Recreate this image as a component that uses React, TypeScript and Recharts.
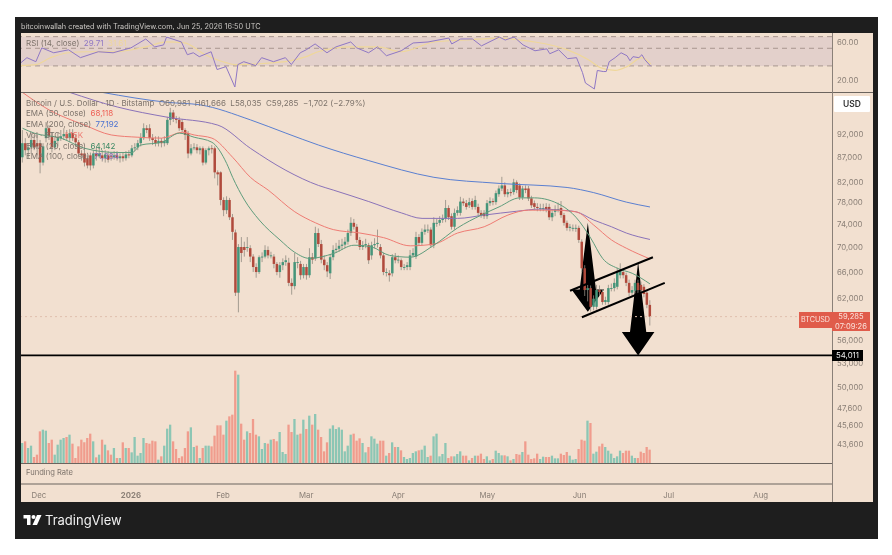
import React from 'react';
import { ComposedChart, Bar, Line, Cell, XAxis, YAxis, ReferenceLine, ReferenceArea } from 'recharts';

// daily candles, BTCUSD Bitstamp
const opens = [87000,90000,88500,89100,90700,90000,90000,85900,91100,93300,91500,89100,90500,91100,91500,92000,91100,92200,91100,90200,87800,87800,86800,87400,85300,87800,87200,87400,86800,87400,87200,87000,87400,86800,87200,86800,87600,87400,88900,89100,90000,91100,93300,93300,91100,90700,90000,90500,90000,90000,95200,96900,95400,95200,94700,92900,92200,87800,88900,89100,88500,88900,85900,88500,88900,88900,83900,83900,78500,76600,78500,75300,72600,62800,70100,70100,70100,69900,68500,66800,66000,68400,68500,69600,68700,68500,67300,66000,67100,67600,67500,64300,63800,67600,67300,65500,66800,65500,68400,68200,72500,70600,68000,67100,65800,68400,69600,69800,70300,70500,71000,72500,74300,73600,71300,70100,70400,70400,68700,70400,70600,70100,68700,66000,65800,65800,68400,67900,67900,66800,66800,66800,68700,68500,71800,70800,72700,73100,73100,70400,74300,74300,74800,75000,77000,75500,73600,76100,76100,78200,77900,77500,78300,77200,77200,76100,76100,75500,77900,78300,78100,79600,80700,81300,79600,80000,80000,81900,81300,79000,80700,80700,78800,77900,77200,77000,77000,77200,77200,75300,76300,76800,77000,75700,74300,73400,73400,73400,73400,71000,66600,63200,63500,60700,60700,63200,62900,61400,61400,63500,63500,63700,65500,66000,65500,64300,62800,63100,64300,64000,63700,62800,60981];
const closes = [90000,88500,89100,90700,89100,89300,85900,89300,93300,91500,89100,90500,91100,91500,92000,91100,92200,91100,90200,87800,87400,85900,85300,85300,87800,87200,87800,86800,87600,86500,87000,87400,86800,87200,86800,87600,87400,88900,89100,90000,91100,93300,92900,91100,90700,90000,90500,90000,90500,95200,96900,95400,95200,93300,92900,91800,87800,88900,89100,88500,88900,85900,88500,88900,88800,83900,83500,78500,76600,78500,75300,72700,62800,70100,69100,69600,70100,68500,66800,66000,68400,68500,69600,68700,68700,67300,66000,67100,67600,67900,64300,63800,67600,67600,65500,66800,65500,68400,68000,72500,70600,68000,67100,66100,68400,69600,69800,70300,70500,71000,72500,74300,73600,71300,70100,70400,70600,67900,70400,70600,70800,68700,66000,66000,65500,68400,67900,68000,66800,66800,67100,68700,69100,71800,70800,72700,73100,73100,70400,74300,74300,74800,75000,77000,75300,73600,76100,76600,78200,77900,77200,78100,77200,78500,76100,75700,75500,77900,78300,78100,79800,80700,81300,79600,80000,79800,81900,80400,79000,80700,80400,78800,77500,77200,77000,77000,77000,76800,75300,76100,76800,76800,75700,74300,73400,73600,73400,73400,71300,66600,63200,63500,60700,61900,63200,62900,61400,61700,63500,63500,64300,66000,66200,65500,64300,62800,63200,64300,63200,63200,62600,61000,59285];
const highs = [92900,91100,90000,92200,91800,91800,90700,90000,94700,94000,92400,91500,92200,92900,93300,92900,93100,93100,92000,90700,88500,88900,87400,88000,88500,89000,89000,88500,88500,88300,88000,88300,88300,87800,88000,88300,88500,89600,90000,90700,92200,94400,94000,94200,92000,91500,91500,91100,91500,95900,98000,97500,96100,95900,95400,93300,92700,89800,90000,89800,89300,89300,88900,89300,89600,89300,84300,84100,79000,79200,78900,75900,73100,70600,71800,71000,71800,70400,68900,67400,68700,69200,70400,70200,69300,68900,67600,67600,68200,68700,68300,65000,69100,68400,67800,67300,67300,69900,69100,73600,73300,71300,68700,67600,68900,70400,70800,71300,71500,71800,73100,75300,75000,74100,71800,71100,71500,70800,71000,71600,73100,70600,69100,66600,66300,68900,69100,68700,68200,67300,67600,69600,69900,72700,72300,73300,74000,74000,73500,75300,75000,75500,75800,78500,77500,76000,76900,77300,79100,78800,78500,78900,78800,79300,77800,76600,76600,78500,79000,78800,80300,81300,83000,81900,80600,80700,82600,82300,81700,81200,81300,81200,79300,78400,77900,77800,77800,77900,77800,76700,77500,78000,78300,76100,74700,74100,74000,74000,73800,71400,67100,64000,63900,62400,64000,63900,63300,62200,64000,64200,65000,66700,67400,66500,65900,64800,63800,64800,64800,64500,64100,63200,61666];
const lows = [85900,87400,86800,87800,88500,87400,83700,85300,90200,90700,88000,88500,89300,90500,90700,90500,90200,90500,89300,87000,86300,85100,84700,84300,84700,86300,86800,86100,85900,85900,86300,86500,86300,85900,86100,86300,86800,87000,88300,88500,89300,90700,92200,90500,89600,89300,89300,89100,89300,89600,94000,94700,94400,92700,92400,90700,86800,87400,88500,87800,87600,85300,85500,87400,87800,82700,81300,77500,75500,75900,74800,71300,62300,59900,67600,68500,69300,67600,66000,65100,65700,67600,68200,68200,68200,66600,65500,65100,66300,67000,63800,62500,63300,66600,64800,65000,64800,65100,67300,67800,70100,67400,66300,65200,64900,67900,69100,69300,69600,69900,70500,72000,73100,70800,69600,69600,69900,67300,68000,69900,70000,68200,65500,65300,64500,65300,67400,67400,66300,66300,66300,66300,68400,68100,70300,70300,72200,72500,70000,69900,73600,73800,74300,74400,74800,73100,73100,75600,75600,77400,76700,77000,76700,76700,75500,75200,75000,75000,77400,77500,77600,79100,80200,79100,79000,79200,79500,79800,78500,78500,79800,78300,77000,76600,76400,76400,76400,76200,74800,74600,75500,76200,75200,73800,72900,72800,72800,72700,70800,66000,62300,61500,60000,60200,60300,62300,61000,61000,61000,63000,63000,63300,65000,65000,63800,62300,62300,62700,62700,62600,62100,60500,58035];

// volume bars in relative units, the reference gives no scale for them
const volumes = [60,65,45,52,18,25,95,100,97,60,70,25,55,70,75,78,85,58,15,50,70,62,75,88,65,17,25,70,55,38,25,45,15,15,62,45,45,32,78,22,30,75,60,58,67,65,10,20,52,103,115,65,42,15,20,45,95,107,48,52,15,45,52,52,50,82,113,113,85,127,140,145,277,265,118,70,95,90,132,85,80,42,60,58,70,72,65,93,33,27,115,93,132,85,88,130,102,142,115,147,100,78,35,62,103,113,102,107,100,35,52,85,88,67,74,60,32,48,80,73,58,67,67,22,30,62,48,48,38,18,12,15,30,35,38,40,52,18,22,80,88,20,27,60,15,20,20,27,35,22,22,8,15,22,22,28,12,20,8,12,37,30,23,23,20,8,12,27,25,33,65,25,12,14,28,12,19,18,18,22,14,14,28,24,33,22,10,12,42,70,67,127,120,28,34,50,58,48,37,28,15,20,37,30,37,37,22,15,15,34,30,48,40];

// moving averages, sampled every so often along the curves
const ema20Days = [0,4,13,21,32,37,40,47,53,58,64,69,71,75,80,87,92,97,105,112,118,124,131,139,147,155,161,168,173,182,187,192,196,201,206,212];
const ema20 = [93300,92200,91100,88900,88000,88000,89600,90200,92200,91300,90200,85700,82900,78500,74800,71300,69200,68200,69000,70400,70100,68700,68400,70400,73400,75700,77200,78900,78900,77500,75300,71600,68200,66600,65800,64142];
const ema50Days = [0,9,21,30,39,47,54,58,64,71,77,83,92,99,105,114,122,131,139,147,156,164,171,179,187,193,199,204,212];
const ema50 = [101700,97500,94000,91800,91300,91100,92400,91800,91100,87000,82900,80400,76300,74300,73100,72500,71700,70300,70600,72500,73600,75700,76600,76600,76300,73900,71300,69900,68118];
const ema100Days = [16,32,49,66,77,89,100,105,117,128,135,147,156,167,175,182,187,193,199,204,212];
const ema100 = [101700,98200,95800,94000,88900,84300,81300,80400,78200,76100,75100,75100,75700,76400,76800,76600,76300,74800,73600,72500,71384];
const ema200Days = [27,49,60,77,89,100,117,139,161,184,193,204,212];
const ema200 = [101700,99300,98700,95200,92200,89600,86300,82900,81700,80900,79900,78100,77192];

const rsiDays = [0,2,5,7,11,16,20,26,31,37,42,45,48,49,54,56,58,60,64,66,69,72,73,75,79,81,85,89,91,94,96,99,103,106,111,113,117,120,123,128,132,137,144,145,148,152,155,161,163,166,169,173,177,178,181,184,187,189,190,193,194,196,197,198,200,202,204,205,206,208,209,210,212];
const rsi = [33,38.1,33.9,50.6,43.9,47.8,38.1,45.2,43.9,50.6,65.4,52,55.1,69.2,60,41.5,43.9,39.2,45.2,27,29.4,16.3,31.2,33.9,30.3,38.1,33.9,38.1,31.2,43.9,47.8,56.7,43.9,52,60,50.6,43.9,52,40.3,46.5,58.3,60,67.2,56.7,65.4,65.4,53.6,69.2,63.5,69.2,55.1,46.5,49.2,42.7,47.8,37,38.1,24.8,18.3,15.4,26.3,25.5,25.5,33.9,38.1,43.9,40.3,34.9,39.2,38.1,41.5,35.9,29.71];
const rsiMaDays = [0,5,10,16,22,32,42,49,55,62,69,72,89,96,100,111,120,128,139,150,161,168,173,184,191,195,200,204,209,212];
const rsiMa = [30.3,31.2,38.1,43.9,45.2,45.2,52,60,58.3,41.5,33,31.2,33.9,39.2,45.2,52,52,45.2,60,63.5,67.2,63.5,60,47.8,35.9,28.6,26.3,29.4,38.1,31.61];

const monthDays = [6,37,68,96,127,157,188,218,249];
const monthLabels = ['Dec','2026','Feb','Mar','Apr','May','Jun','Jul','Aug'];
const priceTicks = [92000,87000,82000,78000,74000,70000,66000,62000,56000,53000,50000,47600,45600,43600];
const rsiTicks = [60,20];

const TOTAL_DAYS = 274;
const PANE_BG = '#f2e0d0';
const UP = '#45957a';
const DOWN = '#b04a3c';
const FONT = 'Inter, "Liberation Sans", sans-serif';
const AXIS_TEXT = '#8a7f76';

const pick = (days: number[], vals: number[], i: number) => {
  const k = days.indexOf(i);
  return k < 0 ? null : vals[k];
};

const rows = Array.from({ length: TOTAL_DAYS }, (_, i) => ({
  idx: i,
  open: opens[i],
  close: closes[i],
  high: highs[i],
  low: lows[i],
  range: i < opens.length ? [lows[i], highs[i]] : null,
  volume: volumes[i],
  ema20: pick(ema20Days, ema20, i),
  ema50: pick(ema50Days, ema50, i),
  ema100: pick(ema100Days, ema100, i),
  ema200: pick(ema200Days, ema200, i),
  rsi: pick(rsiDays, rsi, i),
  rsiMa: pick(rsiMaDays, rsiMa, i),
}));

// wick spans the whole bar, the body is placed inside it on the log scale
const Candle = (props: any) => {
  const { x, y, width, height, payload } = props;
  if (!payload || payload.open === undefined) return null;
  const span = Math.log(payload.high) - Math.log(payload.low);
  const toY = (p: number) => y + (height * (Math.log(payload.high) - Math.log(p))) / span;
  const top = toY(Math.max(payload.open, payload.close));
  const bottom = toY(Math.min(payload.open, payload.close));
  const up = payload.close >= payload.open;
  const cx = x + width / 2;
  return (
    <g>
      <line x1={cx} x2={cx} y1={y} y2={y + height} stroke="#8f8a80" strokeWidth={0.8} />
      <rect x={cx - 1.25} width={2.5} y={top} height={Math.max(bottom - top, 0.9)} fill={up ? UP : DOWN} />
    </g>
  );
};

const Arrow = (props: any) => {
  const { x, y, width, height } = props;
  const cx = x + width / 2;
  const neck = y + height * 0.75;
  const pts = [
    [cx, y],
    [cx + width * 0.25, neck],
    [x + width, neck],
    [cx, y + height],
    [x, neck],
    [cx - width * 0.25, neck],
  ];
  return <polygon points={pts.map((p) => p.join(',')).join(' ')} fill="#000" />;
};

const MonthTick = (props: any) => {
  const { x, y, payload } = props;
  const label = monthLabels[monthDays.indexOf(payload.value)];
  return (
    <text x={x} y={y + 12} textAnchor="middle" fontSize={7.8} fontFamily={FONT} fill={AXIS_TEXT} fontWeight={label === '2026' ? 700 : 400}>
      {label}
    </text>
  );
};

const box = (left: number, top: number, width: number, height: number, extra: React.CSSProperties = {}): React.CSSProperties => ({
  position: 'absolute',
  left,
  top,
  width,
  height,
  ...extra,
});

const Label = ({ x, y, color = '#7d736b', children, size = 8 }: any) => (
  <div style={{ position: 'absolute', left: x, top: y, color, fontSize: size, lineHeight: '10px', whiteSpace: 'pre', fontFamily: FONT }}>
    {children}
  </div>
);

const App: React.FC = () => {
  const axisTick = { fontSize: 7.8, fontFamily: FONT, fill: AXIS_TEXT };
  return (
    <div style={{ position: 'absolute', left: 0, top: 0, width: 892, height: 555, background: '#fff', overflow: 'hidden', filter: 'blur(0.6px)' }}>
      <div style={box(15, 17, 863, 522, { background: '#1e1e1e' })} />
      <div style={box(21, 33, 852, 469, { background: PANE_BG })} />
      <Label x={21} y={22} color="#c9c6c2" size={7.3}>bitcoinwallah created with TradingView.com, Jun 25, 2026 16:50 UTC</Label>

      {/* RSI pane */}
      <div style={box(21, 33, 852, 59)}>
        <ComposedChart width={852} height={59} data={rows} margin={{ top: 0, right: 0, bottom: 0, left: 0 }}>
          <XAxis dataKey="idx" hide />
          <YAxis orientation="right" width={41} scale="log" domain={[14.1, 77.8]} allowDataOverflow ticks={rsiTicks} tick={axisTick} tickFormatter={(v: number) => v.toFixed(2)} tickLine={false} tickSize={0} tickMargin={5} axisLine={false} />
          <ReferenceArea y1={30} y2={70} fill="#8f6fb0" fillOpacity={0.14} stroke="none" />
          <ReferenceLine y={70} stroke="#a8968f" strokeDasharray="5 4" />
          <ReferenceLine y={50} stroke="#a8968f" strokeDasharray="5 4" />
          <ReferenceLine y={30} stroke="#a8968f" strokeDasharray="5 4" />
          <Line dataKey="rsiMa" stroke="#efd79a" strokeWidth={1.2} dot={false} connectNulls type="monotone" isAnimationActive={false} />
          <Line dataKey="rsi" stroke="#8f77c4" strokeWidth={1} dot={false} connectNulls type="linear" isAnimationActive={false} />
        </ComposedChart>
      </div>
      <Label x={26} y={38}>RSI (14, close)  <span style={{ color: '#8f77c4' }}>29.71</span>  <span style={{ color: '#efd79a' }}>31.61</span></Label>

      {/* volume sits behind the candles */}
      <div style={box(21, 363, 852, 100)}>
        <ComposedChart width={852} height={100} data={rows} margin={{ top: 0, right: 41, bottom: 0, left: 0 }}>
          <XAxis dataKey="idx" hide />
          <YAxis hide domain={[0, 300]} />
          <Bar dataKey="volume" barSize={2.3} isAnimationActive={false}>
            {rows.map((r) => (
              <Cell key={r.idx} fill={r.close >= r.open ? '#8cc6b4' : '#f09c8d'} />
            ))}
          </Bar>
        </ComposedChart>
      </div>

      {/* price pane */}
      <div style={box(21, 92, 852, 371)}>
        <ComposedChart width={852} height={371} data={rows} margin={{ top: 0, right: 0, bottom: 0, left: 0 }}>
          <XAxis dataKey="idx" hide />
          <YAxis orientation="right" width={41} scale="log" domain={[41680, 101800]} allowDataOverflow ticks={priceTicks} interval={0} tick={axisTick} tickFormatter={(v: number) => v.toLocaleString('en-US')} tickLine={false} tickSize={0} tickMargin={5} axisLine={false} />
          <ReferenceLine y={59285} stroke="#e0bfae" strokeDasharray="2 3" />
          <ReferenceLine y={54011} stroke="#000" strokeWidth={1.6} />
          <Bar dataKey="range" barSize={3} shape={Candle} isAnimationActive={false} />
          <Line dataKey="ema200" stroke="#5a7fd0" strokeWidth={1} dot={false} connectNulls type="monotone" isAnimationActive={false} />
          <Line dataKey="ema100" stroke="#8a72b8" strokeWidth={1} dot={false} connectNulls type="monotone" isAnimationActive={false} />
          <Line dataKey="ema50" stroke="#ee7b73" strokeWidth={1} dot={false} connectNulls type="monotone" isAnimationActive={false} />
          <Line dataKey="ema20" stroke="#5f9c7c" strokeWidth={1} dot={false} connectNulls type="monotone" isAnimationActive={false} />
          <ReferenceLine segment={[{ x: 185, y: 63100 }, { x: 213, y: 68400 }]} stroke="#000" strokeWidth={2} ifOverflow="visible" />
          <ReferenceLine segment={[{ x: 189, y: 59200 }, { x: 217, y: 64300 }]} stroke="#000" strokeWidth={2} ifOverflow="visible" />
          <ReferenceArea x1={186} x2={196} y1={74300} y2={60000} shape={Arrow} ifOverflow="visible" />
          <ReferenceArea x1={203} x2={213} y1={67600} y2={54000} shape={Arrow} ifOverflow="visible" />
        </ComposedChart>
      </div>

      {/* date axis with the empty funding pane above it */}
      <div style={box(21, 463, 852, 38)}>
        <ComposedChart width={852} height={38} data={rows} margin={{ top: 0, right: 41, bottom: 0, left: 0 }}>
          <XAxis dataKey="idx" height={17} ticks={monthDays} interval={0} tick={<MonthTick />} tickLine={false} tickSize={0} axisLine={{ stroke: '#6b645e' }} />
          <YAxis hide />
        </ComposedChart>
      </div>
      <Label x={26} y={468} size={7.6}>Funding Rate</Label>

      {/* pane separators */}
      <div style={box(21, 92, 852, 1, { background: '#6b645e' })} />
      <div style={box(21, 463, 811, 1, { background: '#6b645e' })} />
      <div style={box(832, 33, 1, 469, { background: '#8a8078' })} />

      {/* legend */}
      <Label x={26} y={98}>{'Bitcoin / U.S. Dollar · 1D · Bitstamp  O60,981  H61,666  L58,035  C59,285  −1,702 (−2.79%)'}</Label>
      <Label x={26} y={108}>EMA (50, close)  <span style={{ color: '#ee5f55' }}>68,118</span></Label>
      <Label x={26} y={119}>EMA (200, close)  <span style={{ color: '#4a72d0' }}>77,192</span></Label>
      <Label x={26} y={130}>Vol · BTC  <span style={{ color: '#ee7b73' }}>1.15K</span></Label>
      <Label x={26} y={141}>EMA (20, close)  <span style={{ color: '#3f8a66' }}>64,142</span></Label>
      <Label x={26} y={151}>EMA (100, close)  <span style={{ color: '#8a72b8' }}>71,384</span></Label>

      {/* axis tags */}
      <div style={box(834, 96, 36, 16, { background: '#fff', borderRadius: 1, color: '#333', fontSize: 8.5, fontWeight: 600, lineHeight: '16px', textAlign: 'center', fontFamily: FONT })}>USD</div>
      <div style={box(799, 312, 33, 16, { background: '#e05c4b', color: '#fbe3dc', fontSize: 7.2, lineHeight: '16px', textAlign: 'center', fontFamily: FONT })}>BTCUSD</div>
      <div style={box(832, 312, 38, 19, { background: '#e05c4b', color: '#fbe3dc', fontSize: 7.6, lineHeight: '9.5px', textAlign: 'center', fontFamily: FONT })}>
        59,285<br />07:09:26
      </div>
      <div style={box(832, 350, 31, 11, { background: '#000', color: '#eee', fontSize: 7.8, lineHeight: '11px', textAlign: 'center', fontFamily: FONT })}>54,011</div>

      {/* footer logo */}
      <svg style={box(23, 514, 19, 12)} viewBox="0 0 36 24">
        <path d="M0 2h14v20H7V9H0z" fill="#fff" />
        <circle cx="20" cy="6" r="4" fill="#fff" />
        <path d="M27 2h9l-9 20h-9z" fill="#fff" />
      </svg>
      <div style={{ position: 'absolute', left: 45, top: 512, color: '#f1f1f1', fontSize: 13, lineHeight: '16px', fontFamily: FONT }}>TradingView</div>
    </div>
  );
};

export default App;
